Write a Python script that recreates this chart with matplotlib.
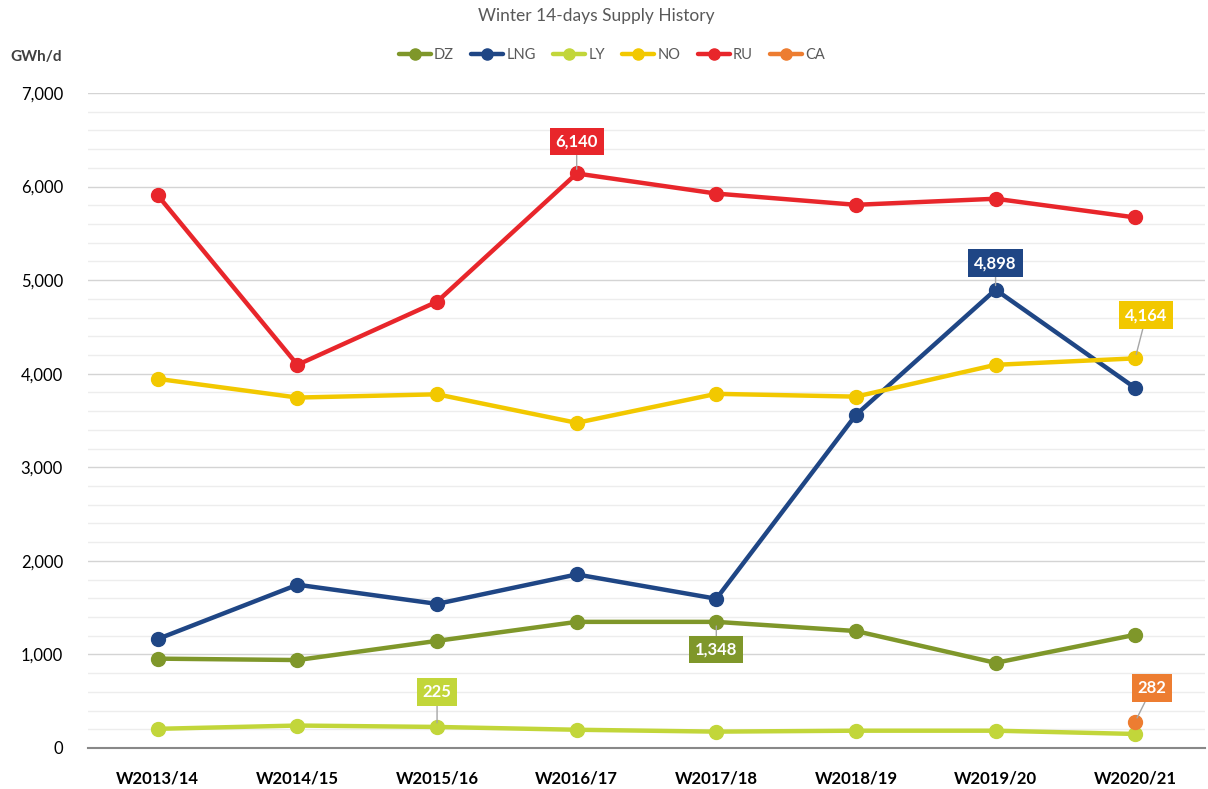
import matplotlib
matplotlib.use('Agg')
import matplotlib.pyplot as plt
from matplotlib.ticker import FuncFormatter, MultipleLocator

plt.rcParams['font.family'] = ['Lato', 'DejaVu Sans']

winters = ['W2013/14', 'W2014/15', 'W2015/16', 'W2016/17',
           'W2017/18', 'W2018/19', 'W2019/20', 'W2020/21']
dz = [955, 940, 1145, 1348, 1348, 1250, 910, 1210]
lng = [1165, 1745, 1540, 1855, 1595, 3560, 4898, 3848]
ly = [205, 240, 225, 195, 175, 185, 185, 150]
no = [3945, 3745, 3780, 3475, 3785, 3755, 4095, 4164]
ru = [5905, 4095, 4770, 6140, 5925, 5805, 5870, 5670]
ca = [None, None, None, None, None, None, None, 282]

series = [('DZ', dz, '#7F972A'), ('LNG', lng, '#1F4685'), ('LY', ly, '#C2D63A'),
          ('NO', no, '#F2C800'), ('RU', ru, '#E8262B'), ('CA', ca, '#ED7D31')]

# labelled points: series, index, label offset in points
callouts = [('RU', 3, (0, 23)), ('LNG', 6, (0, 19)), ('NO', 7, (8, 31)),
            ('DZ', 4, (0, -20)), ('LY', 2, (0, 25)), ('CA', 7, (12, 24))]

fig = plt.figure(figsize=(12.08, 7.89), dpi=100)
ax = fig.add_axes([88 / 1208, 41 / 789, 1117 / 1208, 655 / 789])

x = list(range(len(winters)))
values = {}
for name, vals, color in series:
    pts = [(i, v) for i, v in zip(x, vals) if v is not None]
    xs = [p[0] for p in pts]
    ys = [p[1] for p in pts]
    values[name] = (vals, color)
    ax.plot(xs, ys, color=color, lw=3.2, marker='o', markersize=10,
            label=name, zorder=3, solid_capstyle='round')

for name, i, off in callouts:
    vals, color = values[name]
    v = vals[i]
    ax.annotate(f'{v:,}', xy=(i, v), xytext=off, textcoords='offset points',
                ha='center', va='center', color='white', fontsize=12, fontweight='bold',
                bbox=dict(boxstyle='square,pad=0.35', fc=color, ec='none'),
                arrowprops=dict(arrowstyle='-', color='#A6A6A6', lw=1,
                                shrinkA=0, shrinkB=3),
                zorder=5)

ax.set_xlim(-0.5, len(winters) - 0.5)
ax.set_ylim(0, 7000)
ax.set_xticks(x)
ax.set_xticklabels(winters, fontsize=12, fontweight='bold')
ax.yaxis.set_major_locator(MultipleLocator(1000))
ax.yaxis.set_minor_locator(MultipleLocator(200))
ax.yaxis.set_major_formatter(FuncFormatter(lambda v, p: f'{int(v):,}'))
ax.tick_params(axis='y', labelsize=12, length=0, pad=18, which='both')
ax.tick_params(axis='x', length=0, pad=16)
ax.grid(axis='y', which='major', color='#D4D4D4', lw=1)
ax.grid(axis='y', which='minor', color='#EDEDED', lw=1)
ax.set_axisbelow(True)
for s in ['top', 'right', 'left']:
    ax.spines[s].set_visible(False)
ax.spines['bottom'].set_color('#888888')
ax.spines['bottom'].set_linewidth(1.5)

fig.text(596 / 1208, 1 - 16 / 789, 'Winter 14-days Supply History', ha='center',
         va='center', fontsize=12.5, color='#595959')
fig.text(10 / 1208, 1 - 57 / 789, 'GWh/d', ha='left', va='center',
         fontsize=11, fontweight='bold', color='#404040')
fig.legend(loc='center', bbox_to_anchor=(612 / 1208, 1 - 55 / 789), ncol=6,
           frameon=False, fontsize=10.5, handlelength=2.2, handletextpad=0.2,
           columnspacing=1.2, labelcolor='#595959', markerscale=0.8)

fig.savefig('out.png', dpi=100)
